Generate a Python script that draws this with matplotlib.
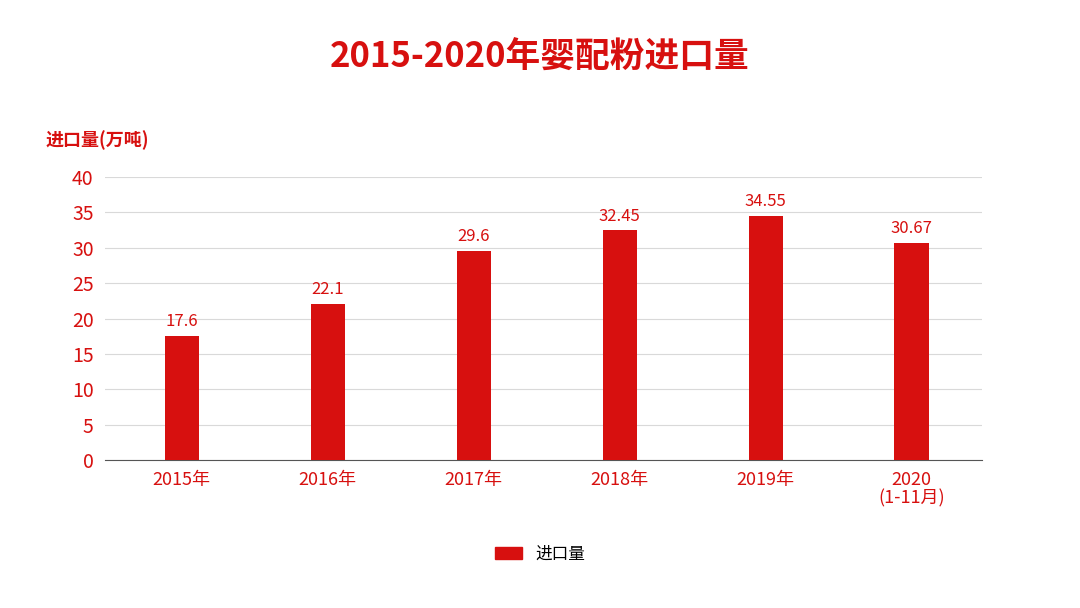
import matplotlib
matplotlib.use("Agg")
import matplotlib.pyplot as plt
from matplotlib import font_manager as fm
from matplotlib.patches import Patch

cjk = None
for f in fm.findSystemFonts():
    if "NotoSansCJK" in f.replace(" ", "") or "CJK" in f:
        cjk = f
        if "Regular" in f or "SC" in f:
            break
if cjk:
    fm.fontManager.addfont(cjk)
    name = fm.FontProperties(fname=cjk).get_name()
    plt.rcParams["font.family"] = [name, "DejaVu Sans"]
else:
    plt.rcParams["font.family"] = ["Noto Sans CJK SC", "DejaVu Sans"]

categories = ["2015年", "2016年", "2017年", "2018年", "2019年", "2020\n(1-11月)"]
values = [17.6, 22.1, 29.6, 32.45, 34.55, 30.67]
labels = ["17.6", "22.1", "29.6", "32.45", "34.55", "30.67"]
yticks = [0, 5, 10, 15, 20, 25, 30, 35, 40]

RED = "#D7100F"
fig = plt.figure(figsize=(10.8, 6.08), dpi=100)
ax = fig.add_axes([0.097, 0.243, 0.812, 0.466])
x = list(range(len(categories)))
ax.bar(x, values, width=0.235, color=RED, zorder=3)
for xi, v, l in zip(x, values, labels):
    ax.text(xi, v + 0.8, l, ha="center", va="bottom", color=RED, fontsize=12)
ax.set_xlim(-0.527, 5.48)
ax.set_ylim(0, 40)
ax.set_yticks(yticks)
ax.set_yticklabels([str(t) for t in yticks], color=RED, fontsize=14)
ax.set_xticks(x)
ax.set_xticklabels(categories, color=RED, fontsize=13, linespacing=1.0)
ax.grid(axis="y", color="#D9D9D9", linewidth=0.8, zorder=0)
for s in ["top", "right", "left"]:
    ax.spines[s].set_visible(False)
ax.spines["bottom"].set_color("#555555")
ax.tick_params(length=0, pad=8)
fig.text(0.5, 0.905, "2015-2020年婴配粉进口量", ha="center", va="center",
         color=RED, fontsize=25, fontweight="bold")
fig.text(0.042, 0.77, "进口量(万吨)", ha="left", va="center", color=RED,
         fontsize=13, fontweight="bold")
fig.legend(handles=[Patch(color=RED, label="进口量")], loc="center",
           bbox_to_anchor=(0.5, 0.088), frameon=False, fontsize=12,
           handlelength=1.6, handleheight=0.7)
fig.savefig("out.png", dpi=100)
